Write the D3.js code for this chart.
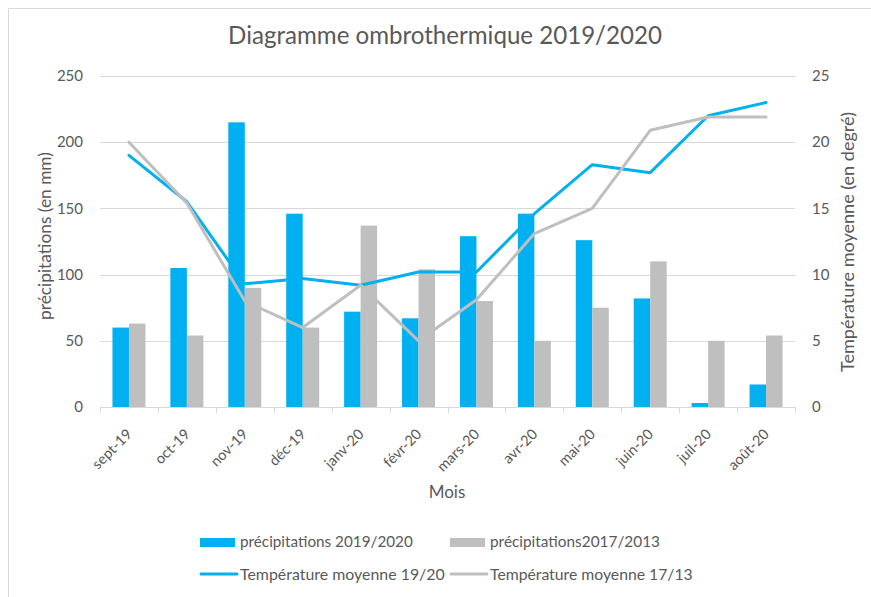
<!DOCTYPE html>
<html>
<head>
<meta charset="utf-8">
<script src="https://cdn.jsdelivr.net/npm/d3@7"></script>
<style>
  html, body { margin: 0; padding: 0; background: #fff; }
  svg { display: block; }
  text { font-family: Lato, "Open Sans", sans-serif; fill: #595959; }
</style>
</head>
<body>
<svg id="chart" width="871" height="597"></svg>
<script>
// ---- data ----
const months = ["sept-19","oct-19","nov-19","déc-19","janv-20","févr-20","mars-20","avr-20","mai-20","juin-20","juil-20","août-20"];
const precip1920 = [60, 105, 215, 146, 72, 67, 129, 146, 126, 82, 3, 17];
const precip1713 = [63, 54, 90, 60, 137, 104, 80, 50, 75, 110, 50, 54];
const temp1920 = [19, 15.5, 9.3, 9.7, 9.2, 10.2, 10.2, 14.6, 18.3, 17.7, 22, 23];
const temp1713 = [20, 15.4, 8, 6, 9.2, 5, 8.1, 13.1, 15, 20.9, 21.9, 21.9];
const precipTicks = [0, 50, 100, 150, 200, 250];
const tempTicks = [0, 5, 10, 15, 20, 25];
const barSeries = ["précipitations 2019/2020", "précipitations2017/2013"];
const lineSeries = ["Température moyenne 19/20", "Température moyenne 17/13"];
const title = "Diagramme ombrothermique 2019/2020";
const xTitle = "Mois";
const yLeftTitle = "précipitations (en mm)";
const yRightTitle = "Température moyenne (en degré)";

// ---- styles ----
const BLUE = "#00b0f0", GRAY = "#bfbfbf", GRID = "#d9d9d9";

const svg = d3.select("#chart");
const L = 100, R = 795, T = 76, B = 407;

function fit(sel, w) {
  const n = sel.node();
  const cur = n.getComputedTextLength();
  const fs = parseFloat(sel.attr("font-size"));
  sel.attr("font-size", fs * w / cur);
  return sel;
}

// chart border (left & top visible)
svg.append("line").attr("x1", 8.5).attr("x2", 8.5).attr("y1", 8.5).attr("y2", 597).attr("stroke", GRID);
svg.append("line").attr("x1", 8.5).attr("x2", 871).attr("y1", 8.5).attr("y2", 8.5).attr("stroke", GRID);

const x = d3.scaleBand().domain(months).range([L, R]).padding(0);
const yP = d3.scaleLinear().domain([0, 250]).range([B, T]);
const yT = d3.scaleLinear().domain([0, 25]).range([B, T]);
const groupW = 33;
const xs = d3.scaleBand().domain(barSeries).range([0, groupW]).padding(0);

// gridlines
svg.append("g").selectAll("line").data(precipTicks.filter(d => d > 0)).join("line")
  .attr("x1", L).attr("x2", R)
  .attr("y1", d => Math.round(yP(d)) + 0.5).attr("y2", d => Math.round(yP(d)) + 0.5)
  .attr("stroke", GRID).attr("stroke-width", 1);

// bars
const barData = [precip1920, precip1713];
const barColors = [BLUE, GRAY];
barData.forEach((vals, si) => {
  svg.append("g").selectAll("rect").data(months).join("rect")
    .attr("x", m => x(m) + x.bandwidth() / 2 - groupW / 2 + xs(barSeries[si]))
    .attr("width", xs.bandwidth())
    .attr("y", (m, i) => yP(vals[i]))
    .attr("height", (m, i) => B - yP(vals[i]))
    .attr("fill", barColors[si]);
});

// x axis line and ticks
svg.append("line").attr("x1", L).attr("x2", R).attr("y1", B + 0.5).attr("y2", B + 0.5).attr("stroke", GRID);
const tickXs = months.map(m => x(m)).concat([R]);
svg.append("g").selectAll("line").data(tickXs).join("line")
  .attr("x1", d => Math.round(d) + 0.5).attr("x2", d => Math.round(d) + 0.5)
  .attr("y1", B).attr("y2", B + 6).attr("stroke", GRID);

// lines
const lineData = [temp1920, temp1713];
const lineColors = [BLUE, GRAY];
const line = d3.line().x((d, i) => x(months[i]) + x.bandwidth() / 2).y(d => yT(d));
lineData.forEach((vals, si) => {
  svg.append("path").datum(vals).attr("d", line)
    .attr("fill", "none").attr("stroke", lineColors[si])
    .attr("stroke-width", 3).attr("stroke-linecap", "round").attr("stroke-linejoin", "round");
});

// left tick labels
svg.append("g").selectAll("text").data(precipTicks).join("text")
  .attr("x", 83).attr("y", d => yP(d)).attr("dy", "0.35em")
  .attr("text-anchor", "end").attr("font-size", 15).text(d => d);

// right tick labels
svg.append("g").selectAll("text").data(tempTicks).join("text")
  .attr("x", 812).attr("y", d => yT(d)).attr("dy", "0.35em")
  .attr("text-anchor", "start").attr("font-size", 15).text(d => d);

// x tick labels
svg.append("g").selectAll("text").data(months).join("text")
  .attr("transform", m => `translate(${x(m) + x.bandwidth() / 2 + 4},435) rotate(-45)`)
  .attr("text-anchor", "end").attr("font-size", 14.5).text(m => m);

// title
fit(svg.append("text").attr("x", 445).attr("y", 44).attr("text-anchor", "middle")
  .attr("font-size", 24).text(title), 434);

// axis titles
svg.append("text").attr("x", 447).attr("y", 498).attr("text-anchor", "middle")
  .attr("font-size", 17).text(xTitle);
fit(svg.append("text").attr("transform", "translate(51,236) rotate(-90)").attr("text-anchor", "middle")
  .attr("font-size", 17).text(yLeftTitle), 168);
fit(svg.append("text").attr("transform", "translate(854,242) rotate(-90)").attr("text-anchor", "middle")
  .attr("font-size", 17).text(yRightTitle), 260);

// legend
const legX = [200, 450];
barSeries.forEach((s, i) => {
  svg.append("rect").attr("x", legX[i]).attr("y", 538).attr("width", 35).attr("height", 9).attr("fill", barColors[i]);
  fit(svg.append("text").attr("x", legX[i] + 40).attr("y", 547).attr("font-size", 15).text(s), i === 0 ? 173 : 170);
});
lineSeries.forEach((s, i) => {
  svg.append("line").attr("x1", legX[i] + 1).attr("x2", legX[i] + 37).attr("y1", 574).attr("y2", 574)
    .attr("stroke", lineColors[i]).attr("stroke-width", 3).attr("stroke-linecap", "round");
  fit(svg.append("text").attr("x", legX[i] + 40).attr("y", 580).attr("font-size", 15).text(s), i === 0 ? 205 : 203);
});
</script>
</body>
</html>
